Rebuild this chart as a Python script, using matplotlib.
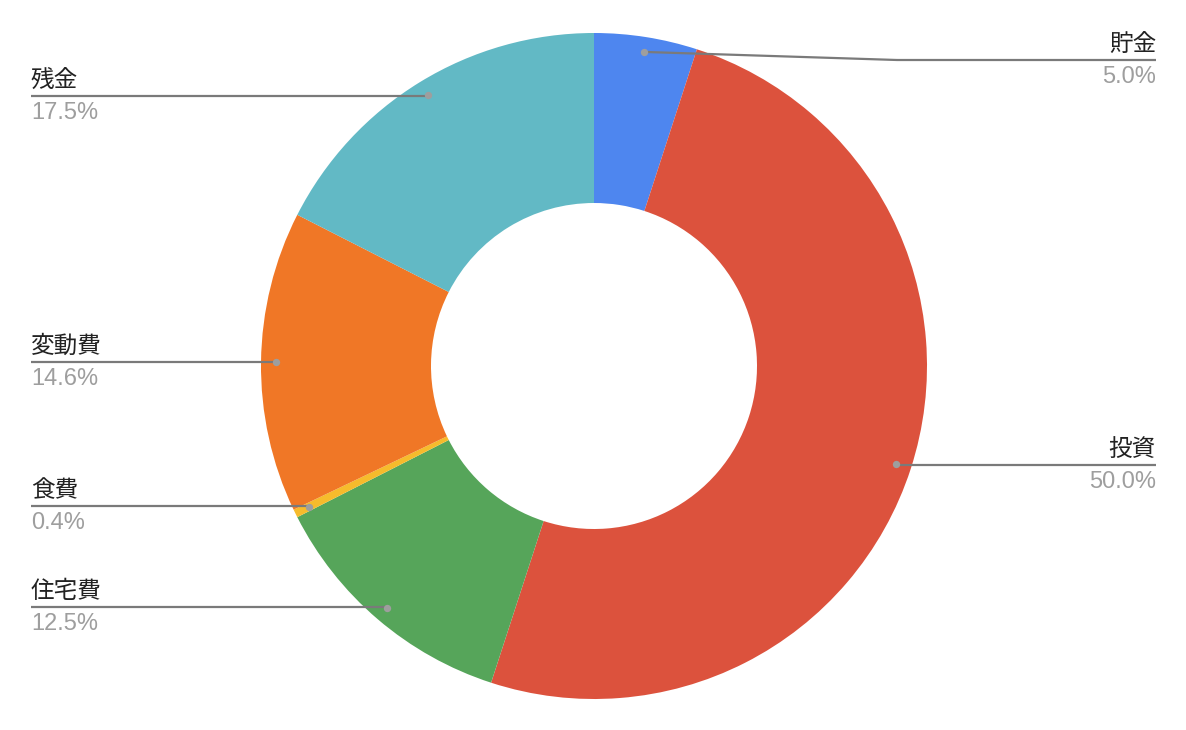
import matplotlib.pyplot as plt
import numpy as np

plt.rcParams['font.family'] = ['Noto Sans CJK JP', 'DejaVu Sans']

# data
labels = ['貯金', '投資', '住宅費', '食費', '変動費', '残金']
values = [5.0, 50.0, 12.5, 0.4, 14.6, 17.5]
colors = ['#4E86EF', '#DC523D', '#56A55A', '#F6BB2C', '#F07726', '#62B9C5']
# which side each label goes on, and leader line end y (pixels from top)
sides = ['right', 'right', 'left', 'left', 'left', 'left']
label_y = [60, 465, 607, 506, 362, 96]

W, H = 1186, 730
cx, cy = 594, H - 366
R = 333
hole = 163

fig = plt.figure(figsize=(W / 100, H / 100), dpi=100)
ax = fig.add_axes([0, 0, 1, 1])

wedges, _ = ax.pie(values, colors=colors, startangle=90, counterclock=False,
                   center=(cx, cy), radius=R,
                   wedgeprops=dict(width=R - hole, linewidth=0))
ax.set_xlim(0, W)
ax.set_ylim(0, H)
ax.set_aspect('equal')
ax.axis('off')

total = sum(values)
start = 90.0
for i, (lab, v) in enumerate(zip(labels, values)):
    mid = start - v / total * 360 / 2
    start -= v / total * 360
    a = np.deg2rad(mid)
    dx = cx + 318 * np.cos(a)
    dy = cy + 318 * np.sin(a)
    ly = H - label_y[i]
    if sides[i] == 'right':
        xe = 1156
        if abs(dy - ly) > 2:
            xs = [dx, 897, xe]
            ys = [dy, ly, ly]
        else:
            xs = [dx, xe]
            ys = [ly, ly]
        ha = 'right'
    else:
        xe = 31
        xs = [dx, xe]
        ys = [ly, ly]
        ha = 'left'
    ax.plot(xs, ys, color='#7A7A7A', lw=1.6, solid_capstyle='butt', zorder=3)
    ax.scatter([dx], [dy], s=28, color='#9E9E9E', zorder=4, linewidths=0)
    ax.text(xe, ly + 9, lab, ha=ha, va='baseline', fontsize=17, color='#222222')
    ax.text(xe, ly - 23, f'{v:.1f}%', ha=ha, va='baseline', fontsize=17,
            color='#9E9E9E', family=['Liberation Sans', 'DejaVu Sans'])

fig.savefig('out.png', dpi=100, facecolor='white')
